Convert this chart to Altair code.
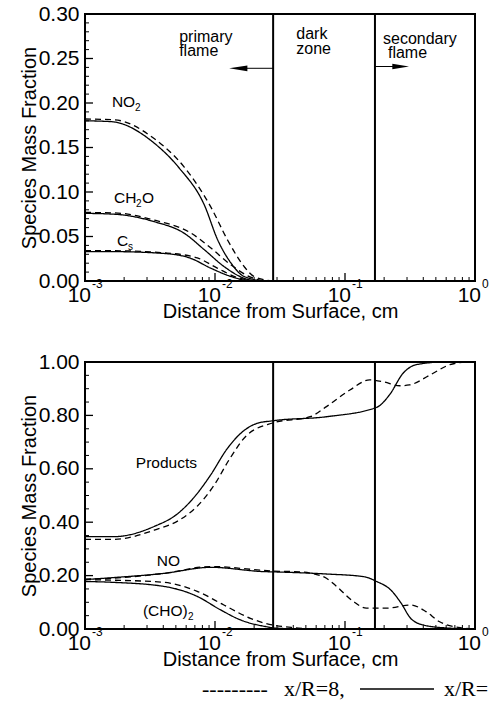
import altair as alt
import pandas as pd

FONT = "Liberation Sans"
SERIF = "Liberation Serif"

# ---------------- data: top panel ----------------
no2_solid_x = [0.001, 0.0016, 0.0034, 0.0053, 0.0083, 0.0105, 0.0133, 0.0168, 0.025, 0.028]
no2_solid_y = [0.180, 0.179, 0.155, 0.127, 0.085, 0.046, 0.020, 0.005, 0.0, 0.0]
no2_dash_x = [0.001, 0.0017, 0.0034, 0.0058, 0.0093, 0.0125, 0.0168, 0.020, 0.028]
no2_dash_y = [0.182, 0.181, 0.160, 0.128, 0.083, 0.046, 0.016, 0.005, 0.0]

ch2o_solid_x = [0.001, 0.0017, 0.0034, 0.0058, 0.0083, 0.0118, 0.0168, 0.022, 0.028]
ch2o_solid_y = [0.076, 0.075, 0.0667, 0.0536, 0.035, 0.016, 0.003, 0.0, 0.0]
ch2o_dash_x = [0.001, 0.0017, 0.0035, 0.0065, 0.0093, 0.0133, 0.019, 0.025, 0.028]
ch2o_dash_y = [0.077, 0.0765, 0.068, 0.054, 0.037, 0.018, 0.004, 0.0, 0.0]

cs_solid_x = [0.001, 0.0016, 0.004, 0.0065, 0.0093, 0.0133, 0.0168, 0.02, 0.028]
cs_solid_y = [0.033, 0.033, 0.031, 0.0255, 0.0143, 0.005, 0.001, 0.0, 0.0]
cs_dash_x = [0.001, 0.0016, 0.0042, 0.0073, 0.0104, 0.0148, 0.022, 0.028]
cs_dash_y = [0.034, 0.034, 0.0315, 0.026, 0.0145, 0.004, 0.0, 0.0]

# ---------------- data: bottom panel ----------------
prod_solid_x = [0.001, 0.00167, 0.0034, 0.0051, 0.0069, 0.0092, 0.0124, 0.0157, 0.021, 0.028,
                0.072, 0.175, 0.22, 0.28, 0.354, 0.57, 1.0]
prod_solid_y = [0.346, 0.346, 0.384, 0.43, 0.493, 0.575, 0.675, 0.732, 0.77, 0.78,
                0.795, 0.83, 0.877, 0.958, 0.99, 1.0, 1.0]
prod_dash_x = [0.001, 0.00167, 0.0034, 0.0054, 0.0073, 0.0098, 0.013, 0.0176, 0.028, 0.054,
               0.072, 0.109, 0.155, 0.197, 0.264, 0.313, 0.45, 0.64, 0.85]
prod_dash_y = [0.336, 0.336, 0.37, 0.41, 0.46, 0.537, 0.638, 0.726, 0.772, 0.795,
               0.833, 0.895, 0.933, 0.926, 0.911, 0.914, 0.951, 0.99, 1.0]

no_solid_x = [0.001, 0.0016, 0.004, 0.0093, 0.0237, 0.028, 0.072, 0.14, 0.175, 0.224, 0.27, 0.32, 0.40, 0.6, 1.0]
no_solid_y = [0.185, 0.192, 0.208, 0.231, 0.215, 0.214, 0.206, 0.196, 0.178, 0.147, 0.097, 0.04, 0.015, 0.004, 0.0]
no_dash_x = [0.001, 0.0016, 0.004, 0.0093, 0.028, 0.045, 0.057, 0.072, 0.086, 0.116, 0.146, 0.21, 0.32, 0.42, 0.53, 0.77, 1.0]
no_dash_y = [0.187, 0.19, 0.208, 0.234, 0.217, 0.214, 0.207, 0.19, 0.16, 0.103, 0.078, 0.078, 0.09, 0.065, 0.028, 0.005, 0.0]

cho2_solid_x = [0.001, 0.0016, 0.004, 0.0073, 0.011, 0.0157, 0.024, 0.03, 0.05]
cho2_solid_y = [0.178, 0.175, 0.16, 0.122, 0.072, 0.034, 0.01, 0.003, 0.0]
cho2_dash_x = [0.001, 0.0016, 0.004, 0.0073, 0.0117, 0.0187, 0.024, 0.04, 0.06]
cho2_dash_y = [0.185, 0.183, 0.175, 0.141, 0.09, 0.04, 0.022, 0.005, 0.0]

# ---------------- axes / annotations ----------------
zone_bounds = [0.028, 0.17]
x_major = [0.001, 0.01, 0.1, 1.0]
x_exp = ["-3", "-2", "-1", "0"]
x_minor = [m * d for d in (0.001, 0.01, 0.1) for m in range(2, 10)]

top_major = [0.0, 0.05, 0.10, 0.15, 0.20, 0.25, 0.30]
top_minor = [round(i * 0.01, 2) for i in range(31) if i % 5]
bot_major = [0.0, 0.2, 0.4, 0.6, 0.8, 1.0]
bot_minor = [round(i * 0.05, 2) for i in range(21) if i % 4]

# species labels: (text, x, y, pixel shift, is_subscript)
top_labels = [
    ("NO", 0.00161, 0.201, 0, False), ("2", 0.00161, 0.201, 23, True),
    ("CH", 0.00167, 0.0933, 0, False), ("2", 0.00167, 0.0933, 22, True), ("O", 0.00167, 0.0933, 28, False),
    ("C", 0.00176, 0.045, 0, False), ("s", 0.00176, 0.045, 11, True),
]
bot_labels = [
    ("Products", 0.00246, 0.622, 0, False),
    ("NO", 0.00357, 0.255, 0, False),
    ("(CHO)", 0.00279, 0.067, 0, False), ("2", 0.00279, 0.067, 45, True),
]

zone_text = ["primary", "flame", "dark", "zone", "secondary", "flame"]
zone_text_x = [0.0053, 0.0053, 0.0422, 0.0422, 0.196, 0.214]
zone_text_y = [0.269, 0.253, 0.272, 0.255, 0.266, 0.251]

arrow_y = [0.239, 0.241]
arrow_from = [0.028, 0.17]
arrow_to = [0.0151, 0.268]

legend_text = ["---------", "x/R=8,", "x/R="]
legend_px = [198, 280, 440]

W, H = 390, 267
XS = alt.Scale(type="log", domain=[0.001, 1.0])
X_AXIS = alt.Axis(
    title="Distance from Surface, cm", labels=False, ticks=False, domain=False, grid=False,
    titleFont=FONT, titleFontSize=20, titleFontWeight="normal", titleColor="black",
    titleY=36, titleBaseline="alphabetic")


def y_axis(ymajor):
    return alt.Axis(
        title="Species Mass Fraction", values=ymajor, format=".2f",
        labelFont=FONT, labelFontSize=21, labelColor="black", labelPadding=6,
        ticks=False, domain=False, grid=False,
        titleFont=FONT, titleFontSize=20, titleFontWeight="normal", titleColor="black",
        titleX=-50, titleBaseline="alphabetic", titleAngle=270)


def curves_df(rows):
    recs = []
    for sp, run, xs, ys in rows:
        for x, y in zip(xs, ys):
            recs.append({"species": sp, "run": run, "x": x, "y": y})
    return pd.DataFrame(recs)


def panel(curves, ymax, ymajor, yminor, labels, extra):
    ys = alt.Scale(domain=[0, ymax])
    yax = y_axis(ymajor)
    X = lambda: alt.X("x:Q", scale=XS, axis=X_AXIS)
    Y = lambda: alt.Y("y:Q", scale=ys, axis=yax)

    lines = alt.Chart(curves).mark_line(color="black", strokeWidth=1.3, interpolate="monotone").encode(
        x=X(), y=Y(),
        detail="species:N",
        strokeDash=alt.StrokeDash("run:N", scale=alt.Scale(domain=["8", "other"], range=[[6, 4], [1, 0]]),
                                  legend=None),
    )

    vlines = alt.Chart(pd.DataFrame({"x": zone_bounds})).mark_rule(color="black", strokeWidth=2).encode(x=X())

    ymaj = alt.Chart(pd.DataFrame({"y": ymajor})).mark_rule(color="black", strokeWidth=1.3).encode(
        y=Y(), x=alt.value(0), x2=alt.value(8))
    ymin = alt.Chart(pd.DataFrame({"y": yminor})).mark_rule(color="black", strokeWidth=1).encode(
        y=Y(), x=alt.value(0), x2=alt.value(4))
    xmaj = alt.Chart(pd.DataFrame({"x": x_major})).mark_rule(color="black", strokeWidth=1.3).encode(
        x=X(), y=alt.value(H), y2=alt.value(H - 8))
    xmin = alt.Chart(pd.DataFrame({"x": x_minor})).mark_rule(color="black", strokeWidth=1).encode(
        x=X(), y=alt.value(H), y2=alt.value(H - 4))

    tdf = pd.DataFrame({"x": x_major, "e": x_exp, "t": ["10"] * 4})
    xl10 = alt.Chart(tdf).mark_text(font=FONT, fontSize=21, align="right", baseline="alphabetic",
                                    dx=6, color="black").encode(x=X(), y=alt.value(H + 21), text="t:N")
    xlexp = alt.Chart(tdf).mark_text(font=FONT, fontSize=12, align="left", baseline="alphabetic",
                                     dx=7, color="black").encode(x=X(), y=alt.value(H + 7), text="e:N")

    lab_layers = []
    for t, lx, ly, shift, is_sub in labels:
        lab_layers.append(
            alt.Chart(pd.DataFrame({"x": [lx], "y": [ly], "t": [t]})).mark_text(
                font=FONT, fontSize=10 if is_sub else 15.5, align="left", baseline="middle",
                dx=shift, dy=6 if is_sub else 0, color="black").encode(x=X(), y=Y(), text="t:N"))

    layers = [lines, vlines, ymaj, ymin, xmaj, xmin, xl10, xlexp] + lab_layers + extra(X, Y)
    return alt.layer(*layers).properties(width=W, height=H)


def top_extra(X, Y):
    zdf = pd.DataFrame({"x": zone_text_x, "y": zone_text_y, "t": zone_text})
    ztext = alt.Chart(zdf).mark_text(font=FONT, fontSize=16, align="left", baseline="alphabetic",
                                     color="black").encode(x=X(), y=Y(), text="t:N")
    adf = pd.DataFrame({"x": arrow_from, "x2": arrow_to, "y": arrow_y})
    shafts = alt.Chart(adf).mark_rule(color="black", strokeWidth=1).encode(x=X(), x2="x2:Q", y=Y())
    left = alt.Chart(pd.DataFrame({"x": [arrow_to[0]], "y": [arrow_y[0]]})).mark_point(
        shape="M-1,0L1,-0.32L1,0.32Z", size=330, filled=True, color="black", opacity=1).encode(x=X(), y=Y())
    right = alt.Chart(pd.DataFrame({"x": [arrow_to[1]], "y": [arrow_y[1]]})).mark_point(
        shape="M1,0L-1,-0.32L-1,0.32Z", size=280, filled=True, color="black", opacity=1).encode(x=X(), y=Y())
    return [ztext, shafts, left, right]


def bot_extra(X, Y):
    out = []
    for t, px in zip(legend_text, legend_px):
        out.append(alt.Chart(pd.DataFrame({"t": [t]})).mark_text(
            font=SERIF, fontSize=22, align="left", baseline="alphabetic", color="black").encode(
            x=alt.value(px - 81), y=alt.value(696 - 362), text="t:N"))
    out.append(alt.Chart(pd.DataFrame({"t": [0]})).mark_rule(color="black", strokeWidth=1.3).encode(
        x=alt.value(356 - 81), x2=alt.value(430 - 81), y=alt.value(689 - 362)))
    return out


top_curves = curves_df([
    ("NO2", "other", no2_solid_x, no2_solid_y), ("NO2", "8", no2_dash_x, no2_dash_y),
    ("CH2O", "other", ch2o_solid_x, ch2o_solid_y), ("CH2O", "8", ch2o_dash_x, ch2o_dash_y),
    ("Cs", "other", cs_solid_x, cs_solid_y), ("Cs", "8", cs_dash_x, cs_dash_y),
])
bot_curves = curves_df([
    ("Products", "other", prod_solid_x, prod_solid_y), ("Products", "8", prod_dash_x, prod_dash_y),
    ("NO", "other", no_solid_x, no_solid_y), ("NO", "8", no_dash_x, no_dash_y),
    ("CHO2", "other", cho2_solid_x, cho2_solid_y), ("CHO2", "8", cho2_dash_x, cho2_dash_y),
])

top = panel(top_curves, 0.30, top_major, top_minor, top_labels, top_extra)
bot = panel(bot_curves, 1.0, bot_major, bot_minor, bot_labels, bot_extra)

chart = alt.vconcat(top, bot, spacing=28, background="white").properties(
    padding={"left": 17, "top": 2, "right": 0, "bottom": 0}
).configure_view(stroke="black", strokeWidth=2)

chart.save("out.html", embed_options={"renderer": "svg", "actions": False})
